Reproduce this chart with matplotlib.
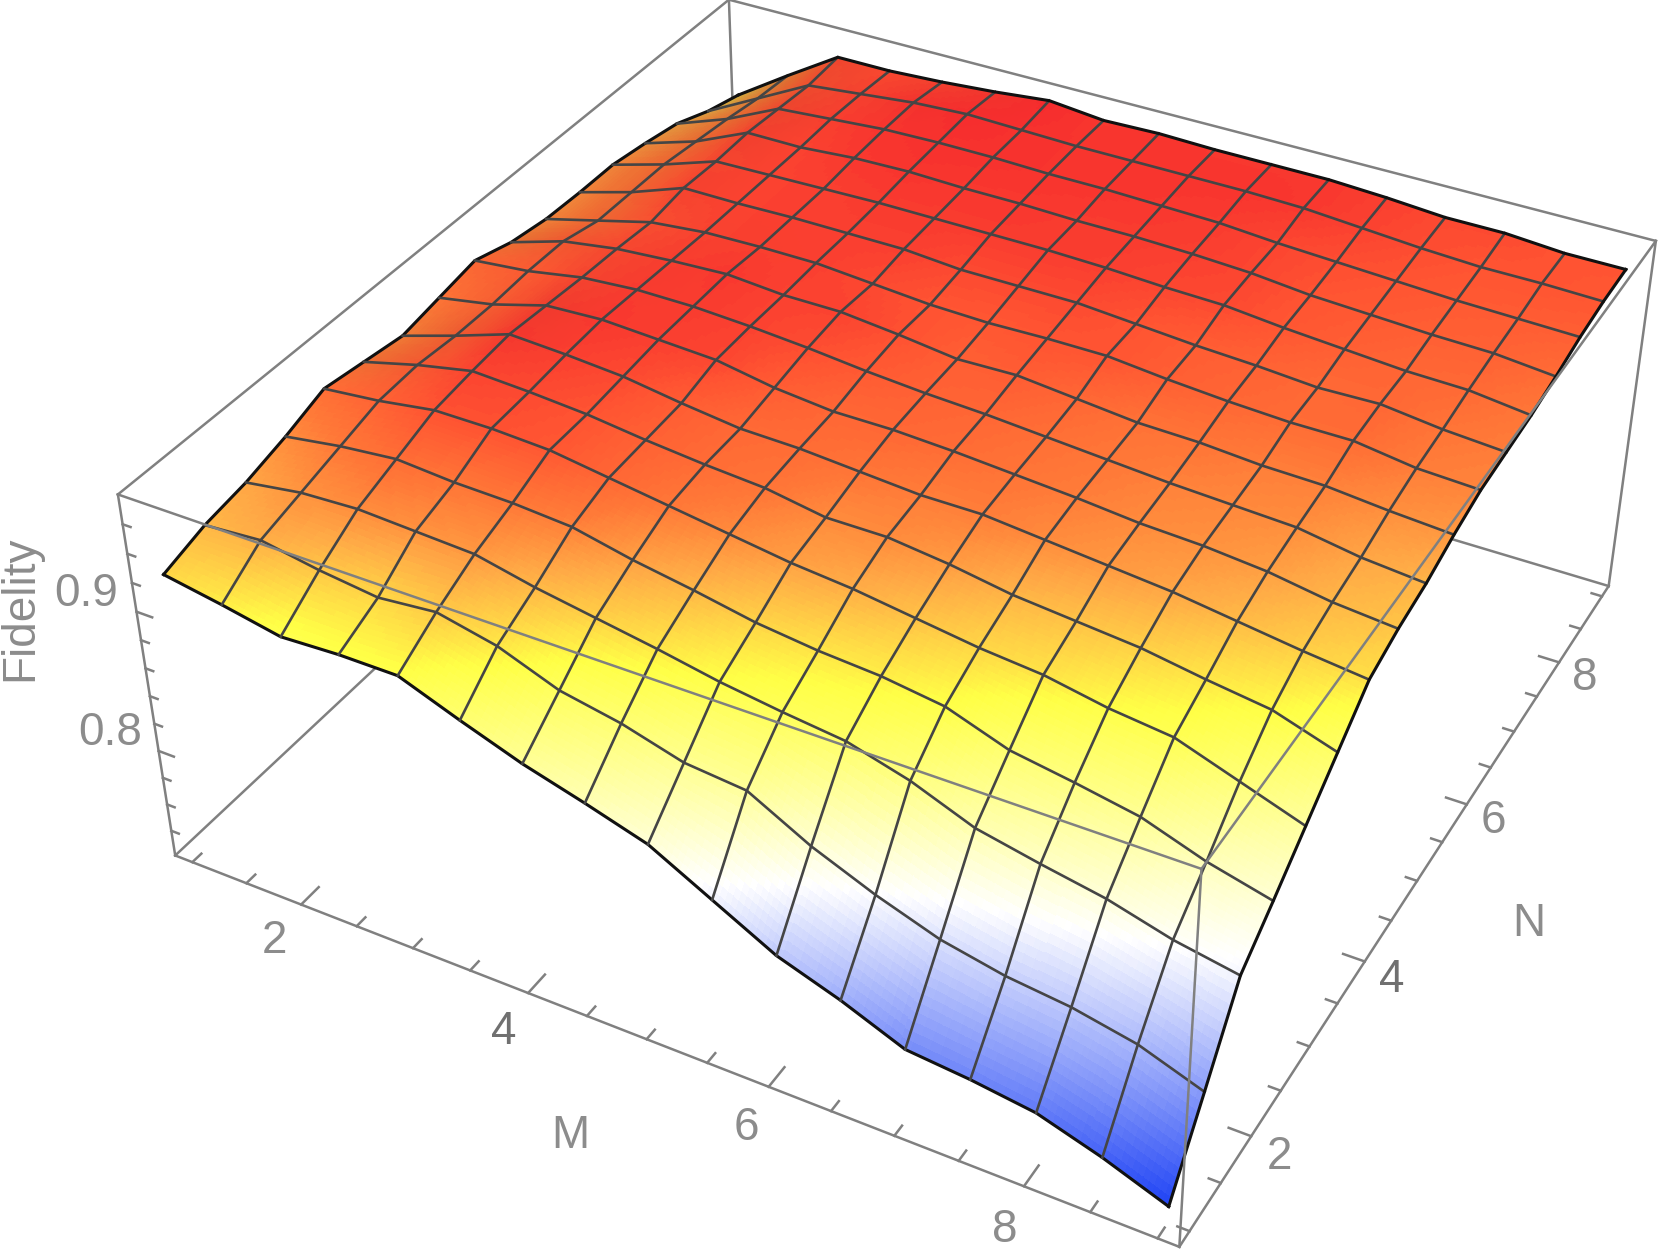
import numpy as np
import matplotlib
matplotlib.use('Agg')
import matplotlib.pyplot as plt
from matplotlib.colors import LinearSegmentedColormap
from mpl_toolkits.mplot3d import proj3d

# Fidelity, one row per N, columns M = 1, 1.5 ... 9
m_values = np.arange(1, 9.5, 0.5)
n_values = np.arange(1, 9.5, 0.5)
fid_n10 = [922, 915, 907, 909, 909, 893, 878, 866, 853, 830, 807, 792, 774, 770, 764, 750, 733]
fid_n15 = [931, 934, 927, 922, 926, 917, 901, 893, 881, 877, 854, 836, 821, 812, 807, 798, 782]
fid_n20 = [936, 942, 944, 942, 940, 931, 924, 917, 909, 903, 898, 886, 869, 860, 852, 840, 832]
fid_n25 = [944, 950, 954, 951, 950, 947, 938, 931, 923, 918, 915, 909, 894, 887, 879, 864, 853]
fid_n30 = [954, 958, 964, 964, 962, 956, 950, 944, 938, 934, 928, 922, 918, 910, 905, 890, 875]
fid_n35 = [950, 960, 968, 966, 963, 958, 954, 951, 944, 944, 939, 932, 928, 924, 917, 911, 897]
fid_n40 = [946, 958, 971, 969, 966, 960, 955, 954, 951, 948, 948, 944, 940, 936, 930, 924, 919]
fid_n45 = [951, 958, 969, 971, 969, 967, 960, 956, 956, 954, 951, 948, 944, 942, 938, 931, 927]
fid_n50 = [956, 960, 967, 970, 970, 968, 965, 961, 958, 956, 953, 950, 947, 945, 943, 936, 932]
fid_n55 = [948, 960, 966, 969, 971, 968, 968, 964, 959, 960, 956, 952, 951, 948, 947, 943, 940]
fid_n60 = [944, 954, 964, 968, 969, 969, 966, 963, 962, 963, 963, 959, 956, 954, 954, 948, 946]
fid_n65 = [943, 954, 968, 968, 969, 969, 969, 966, 966, 966, 963, 960, 958, 955, 956, 951, 948]
fid_n70 = [943, 954, 967, 968, 969, 970, 970, 970, 970, 969, 967, 966, 962, 959, 956, 955, 950]
fid_n75 = [939, 951, 968, 968, 971, 972, 971, 971, 970, 970, 969, 967, 963, 961, 959, 958, 954]
fid_n80 = [934, 948, 966, 969, 972, 973, 973, 972, 972, 971, 970, 967, 965, 963, 961, 960, 959]
fid_n85 = [924, 944, 964, 968, 972, 974, 973, 972, 972, 972, 972, 971, 968, 965, 963, 963, 962]
fid_n90 = [917, 942, 966, 966, 968, 971, 975, 971, 972, 971, 971, 971, 969, 966, 966, 963, 963]

m_major = [2, 4, 6, 8]
n_major = [2, 4, 6, 8]
z_major = [0.8, 0.9]
m_minor = np.arange(1, 9.5, 0.5)
n_minor = np.arange(1, 9.5, 0.5)
z_minor = np.arange(0.74, 0.97, 0.02)

fid = np.array([fid_n10, fid_n15, fid_n20, fid_n25, fid_n30, fid_n35, fid_n40, fid_n45, fid_n50,
                fid_n55, fid_n60, fid_n65, fid_n70, fid_n75, fid_n80, fid_n85, fid_n90]) / 1000

W, H = 1661, 1258
S = 2600  # side of the square 3d panel, bigger than the figure so nothing gets clipped
x_lo, x_hi = 0.84, 9.16
z_lo, z_hi = 0.721, 0.980

fig = plt.figure(figsize=(W / 100, H / 100), dpi=100)
ax = fig.add_axes([((W - S) / 2 + 59.89) / W, ((H - S) / 2 + 49.80) / H, S / W, S / H],
                  projection='3d', computed_zorder=False)
ax.set_xlim(x_lo, x_hi)
ax.set_ylim(x_lo, x_hi)
ax.set_zlim(z_lo, z_hi)
ax.set_box_aspect((1, 1, 0.4), zoom=0.5996)
ax.set_proj_type('persp', focal_length=0.2623)
ax.view_init(elev=36.2015, azim=-61.6651, roll=0)
ax.set_axis_off()
ax.apply_aspect()

# colour by height, blue - white - yellow - orange - red
stops = [(0.733, '#2346f5'), (0.836, '#ffffff'), (0.910, '#ffff46'), (0.935, '#ffaa46'),
         (0.950, '#ff7837'), (0.963, '#ff5532'), (0.976, '#f5282d')]
span = stops[-1][0] - stops[0][0]
cmap = LinearSegmentedColormap.from_list('fid', [((z - stops[0][0]) / span, c) for z, c in stops])

# soft light, only the slopes facing away from it get darker
dx_box = 0.5 / (x_hi - x_lo)
z_box = (fid - z_lo) / (z_hi - z_lo) * 0.4
gy, gx = np.gradient(z_box, dx_box)
light = np.array([0.35, -0.5, 1.0])
light = light / np.linalg.norm(light)
n_dot = (-gx * light[0] - gy * light[1] + light[2]) / np.sqrt(gx ** 2 + gy ** 2 + 1)
shade = np.clip(0.56 + 0.52 * n_dot, 0, 1)


def refine(a, k=12):
    # finer mesh only for the colour gradient inside each cell
    i_old = np.arange(a.shape[0])
    i_new = np.linspace(0, a.shape[0] - 1, (a.shape[0] - 1) * k + 1)
    a = np.array([np.interp(i_new, i_old, row) for row in a])
    return np.array([np.interp(i_new, i_old, col) for col in a.T]).T


M_grid, N_grid = np.meshgrid(m_values, n_values)
M_fine, N_fine = refine(M_grid), refine(N_grid)
fid_fine = refine(fid)
rgba = cmap((fid_fine - stops[0][0]) / span)
rgba[..., :3] *= refine(shade)[..., None]

box_col = '#808080'
text_col = '#8c8c8c'
box_lw = 1.8

# back edges go under the surface
back = [((x_lo, x_lo), (x_lo, x_hi), (z_lo, z_lo)), ((x_lo, x_hi), (x_hi, x_hi), (z_lo, z_lo)),
        ((x_lo, x_lo), (x_hi, x_hi), (z_lo, z_hi)), ((x_lo, x_lo), (x_lo, x_hi), (z_hi, z_hi)),
        ((x_lo, x_hi), (x_hi, x_hi), (z_hi, z_hi)), ((x_hi, x_hi), (x_hi, x_hi), (z_lo, z_hi)),
        ((x_lo, x_lo), (x_lo, x_lo), (z_lo, z_hi)), ((x_lo, x_hi), (x_lo, x_lo), (z_lo, z_lo)),
        ((x_hi, x_hi), (x_lo, x_hi), (z_lo, z_lo))]
for xs, ys, zs in back:
    ax.plot(xs, ys, zs, color=box_col, lw=box_lw, zorder=1)

ax.plot_surface(M_fine, N_fine, fid_fine, rstride=1, cstride=1, facecolors=rgba, shade=False,
                linewidth=0, antialiased=False, zorder=2)

# mesh lines on the data nodes
for i in range(17):
    edge = i in (0, 16)
    col, lw = ('#111111', 2.2) if edge else ('#454545', 1.9)
    ax.plot(M_grid[i], N_grid[i], fid[i], color=col, lw=lw, zorder=3)
    ax.plot(M_grid[:, i], N_grid[:, i], fid[:, i], color=col, lw=lw, zorder=3)

# front top edges stay in front of the surface
front = [((x_lo, x_hi), (x_lo, x_lo), (z_hi, z_hi)), ((x_hi, x_hi), (x_lo, x_hi), (z_hi, z_hi)),
         ((x_hi, x_hi), (x_lo, x_lo), (z_lo, z_hi))]
for xs, ys, zs in front:
    ax.plot(xs, ys, zs, color=box_col, lw=box_lw, zorder=4)

# ticks
for m in m_minor:
    ln = 0.22 if m in m_major else 0.11
    ax.plot((m, m), (x_lo, x_lo + ln), (z_lo, z_lo), color=box_col, lw=box_lw, zorder=4)
for n in n_minor:
    ln = 0.17 if n in n_major else 0.09
    ax.plot((x_hi, x_hi - ln), (n, n), (z_lo, z_lo), color=box_col, lw=box_lw, zorder=4)
for z in z_minor:
    ln = 0.14 if np.isclose(z, z_major).any() else 0.07
    ax.plot((x_lo, x_lo + ln), (x_lo, x_lo), (z, z), color=box_col, lw=box_lw, zorder=4)


def label(x, y, z, s, color=text_col):
    # place a label at a 3d spot, drawn as plain figure text
    px, py, _ = proj3d.proj_transform(x, y, z, ax.get_proj())
    fx, fy = fig.transFigure.inverted().transform(ax.transData.transform((px, py)))
    fig.text(fx, fy, s, family='Liberation Sans', color=color, fontsize=33, ha='center', va='center')


for m in m_major:
    label(m + 0.07, x_lo - 0.42, z_lo, str(m), '#707070' if m == 4 else text_col)
for n in n_major:
    label(x_hi + 0.25, n - 0.09, z_lo, str(n), '#707070' if n == 4 else text_col)
for z in z_major:
    label(x_lo - 0.45, x_lo, z, f'{z:.1f}')
label(5.04, x_lo - 1.055, z_lo, 'M')
label(x_hi + 0.9, 4.95, z_lo, 'N')
fig.text(20 / W, 1 - 608 / H, 'Fidelity', family='Liberation Sans', color=text_col, fontsize=33,
         rotation=90, ha='center', va='center')

fig.savefig('out.png', dpi=100)
